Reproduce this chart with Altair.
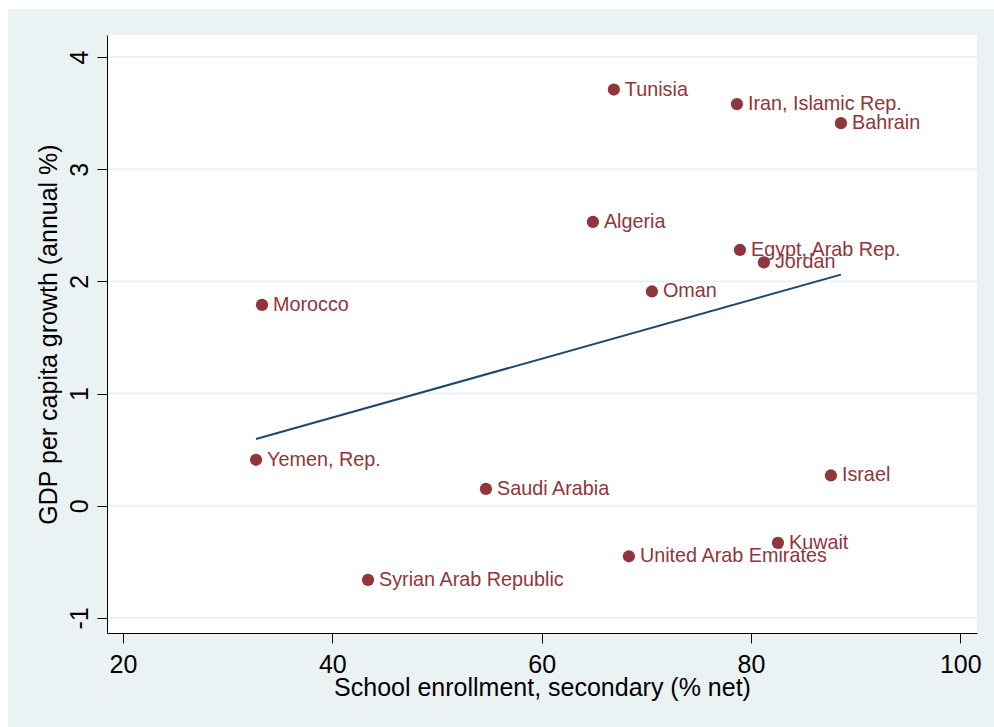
import altair as alt
import pandas as pd

countries = ["Tunisia", "Iran, Islamic Rep.", "Bahrain", "Algeria", "Egypt, Arab Rep.",
             "Jordan", "Oman", "Morocco", "Yemen, Rep.", "Saudi Arabia", "Israel",
             "Kuwait", "United Arab Emirates", "Syrian Arab Republic"]
enroll = [66.9, 78.66, 88.6, 64.9, 78.95, 81.24, 70.54, 33.28, 32.71, 54.68, 87.64,
          82.58, 68.34, 43.41]
growth = [3.71, 3.58, 3.41, 2.53, 2.28, 2.17, 1.91, 1.79, 0.41, 0.15, 0.27,
          -0.33, -0.45, -0.66]

x_ticks = [20, 40, 60, 80, 100]
y_ticks = [-1, 0, 1, 2, 3, 4]

FONT = "Liberation Sans"
MAROON = "#90353B"
NAVY = "#1A476F"
BG = "#EAF2F3"

W, H = 870, 598

df = pd.DataFrame({"country": countries, "enroll": enroll, "growth": growth})
grid_df = pd.DataFrame({"growth": y_ticks})
one = pd.DataFrame({"k": [0]})

x_enc = alt.X("enroll:Q",
              scale=alt.Scale(domain=[18.47, 101.6], nice=False, zero=False),
              axis=alt.Axis(values=x_ticks, title="School enrollment, secondary (% net)",
                            grid=False, tickSize=10, labelPadding=29, zindex=2,
                            labelBaseline="alphabetic", labelFlush=False,
                            labelExpr="'' + datum.value",
                            titleBaseline="alphabetic", titleY=62))
y_enc = alt.Y("growth:Q",
              scale=alt.Scale(domain=[-1.134, 4.196], nice=False, zero=False),
              axis=alt.Axis(values=y_ticks, title="GDP per capita growth (annual %)",
                            grid=False, tickSize=10, labelPadding=10, labelAngle=-90,
                            labelAlign="center", labelBaseline="alphabetic", zindex=2,
                            labelFlush=False, labelExpr="'' + datum.value",
                            titleBaseline="alphabetic", titleX=-51,
                            titleAngle=-90))

frame = alt.Chart(one).mark_rect(color=BG, opacity=1).encode(
    x=alt.value(-99), x2=alt.value(887), y=alt.value(-26), y2=alt.value(692))
plotbg = alt.Chart(one).mark_rect(color="white", opacity=1).encode(
    x=alt.value(0), x2=alt.value(W), y=alt.value(0), y2=alt.value(H))
grid = alt.Chart(grid_df).mark_rule(color=BG, strokeWidth=2).encode(y=y_enc)
fit = alt.Chart(df).transform_regression("enroll", "growth").mark_line(
    color=NAVY, strokeWidth=2).encode(x=x_enc, y=y_enc)
pts = alt.Chart(df).mark_circle(size=150, opacity=1, color=MAROON).encode(x=x_enc, y=y_enc)
labels = alt.Chart(df).mark_text(align="left", baseline="middle", dx=11, fontSize=19.8,
                                 color=MAROON, font=FONT).encode(
    x=x_enc, y=y_enc, text="country:N")

chart = alt.layer(frame, plotbg, grid, fit, pts, labels).properties(
    width=W, height=H,
    autosize=alt.AutoSizeParams(type="none"),
    padding={"left": 107, "top": 35, "right": 17, "bottom": 94},
    background="white",
).configure_view(stroke=None).configure_axis(
    domainColor="black", domainWidth=1, tickColor="black", tickWidth=1,
    labelColor="black", titleColor="black", labelFont=FONT, titleFont=FONT,
    labelFontSize=25, titleFontSize=25, titleFontWeight="normal",
)

chart.save("out.html", embed_options={"renderer": "svg", "actions": False})
